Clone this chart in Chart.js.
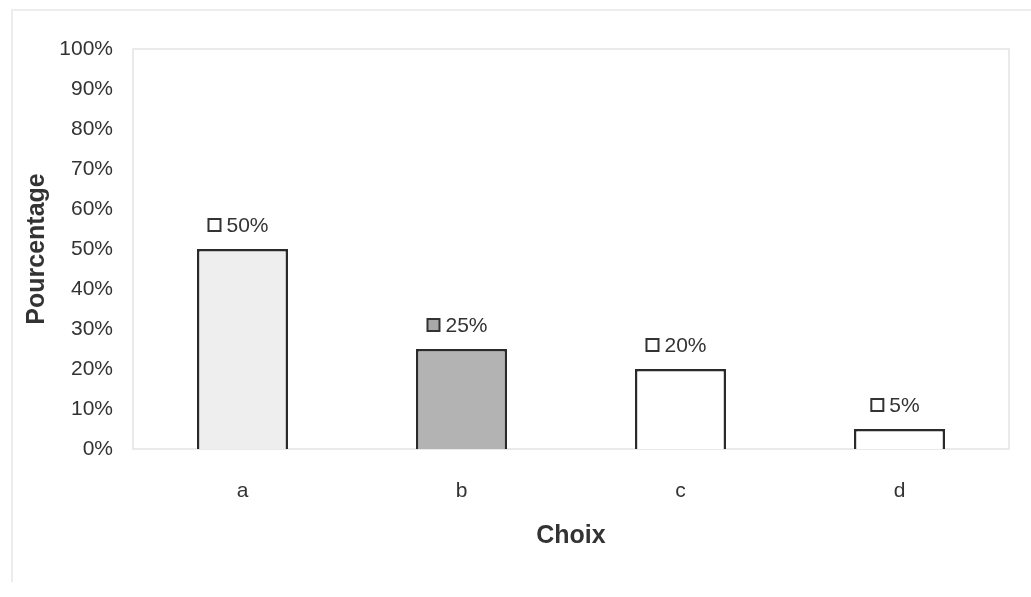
<!DOCTYPE html>
<html>
<head>
<meta charset="utf-8">
<script src="https://cdn.jsdelivr.net/npm/chart.js@4"></script>
<style>
    body { margin: 0; background: #ffffff; }
    #wrap { width: 1031px; height: 597px; position: relative; }
</style>
</head>
<body>
<div id="wrap"><canvas id="choixChart"></canvas></div>
<script>
const choix = ["a", "b", "c", "d"];
const pourcentages = [50, 25, 20, 5];
const barColors = ["#eeeeee", "#b3b3b3", "#ffffff", "#ffffff"];
const keyColors = ["#ffffff", "#a8a8a8", "#ffffff", "#ffffff"];
const yTicks = [0, 10, 20, 30, 40, 50, 60, 70, 80, 90, 100];

const textColor = "#333333";

// faint frames of the scanned picture
const framePlugin = {
    id: "frames",
    beforeDraw(chart) {
        const ctx = chart.ctx;
        const a = chart.chartArea;
        ctx.save();
        ctx.strokeStyle = "#ececec";
        ctx.lineWidth = 2;
        ctx.beginPath();
        ctx.moveTo(12, 582);
        ctx.lineTo(12, 10);
        ctx.lineTo(1031, 10);
        ctx.stroke();
        ctx.strokeStyle = "#e3e3e3";
        ctx.lineWidth = 1.5;
        ctx.strokeRect(a.left, a.top, a.right - a.left, a.bottom - a.top);
        ctx.restore();
    }
};

// value labels with a small legend key in front
const valueLabels = {
    id: "valueLabels",
    afterDatasetsDraw(chart) {
        const ctx = chart.ctx;
        const meta = chart.getDatasetMeta(0);
        ctx.save();
        ctx.font = "21px 'Liberation Sans', Arial, sans-serif";
        ctx.textBaseline = "middle";
        meta.data.forEach((bar, i) => {
            const text = pourcentages[i] + "%";
            const tw = ctx.measureText(text).width;
            const box = 12, gap = 6;
            const total = box + gap + tw;
            const x0 = bar.x - total / 2 - 4;
            const y = bar.y - 24;
            ctx.fillStyle = keyColors[i];
            ctx.fillRect(x0, y - box / 2, box, box);
            ctx.strokeStyle = "#333333";
            ctx.lineWidth = 2;
            ctx.strokeRect(x0, y - box / 2, box, box);
            ctx.fillStyle = textColor;
            ctx.textAlign = "left";
            ctx.fillText(text, x0 + box + gap, y + 1);
        });
        ctx.restore();
    }
};

new Chart(document.getElementById("choixChart"), {
    type: "bar",
    data: {
        labels: choix,
        datasets: [{
            data: pourcentages,
            backgroundColor: barColors,
            borderColor: "#2a2a2a",
            borderWidth: 2.5,
            barPercentage: 0.416,
            categoryPercentage: 1
        }]
    },
    options: {
        responsive: true,
        maintainAspectRatio: false,
        animation: false,
        layout: {
            padding: { left: 0, right: 22, top: 49, bottom: 0 }
        },
        plugins: {
            legend: { display: false },
            tooltip: { enabled: false }
        },
        scales: {
            x: {
                grid: { display: false },
                border: { display: false },
                ticks: {
                    color: textColor,
                    padding: 22,
                    font: { family: "'Liberation Sans', Arial, sans-serif", size: 21 }
                },
                title: {
                    display: true,
                    text: "Choix",
                    color: textColor,
                    padding: { top: 0, bottom: 46 },
                    font: { family: "'Liberation Sans', Arial, sans-serif", size: 25, weight: "bold" }
                },
                afterFit(scale) { scale.height = 148; }
            },
            y: {
                min: 0,
                max: 100,
                grid: { display: false },
                border: { display: false },
                afterBuildTicks(scale) {
                    scale.ticks = yTicks.map(v => ({ value: v }));
                },
                ticks: {
                    color: textColor,
                    padding: 12,
                    font: { family: "'Liberation Sans', Arial, sans-serif", size: 21 },
                    callback: (v) => v + "%"
                },
                title: {
                    display: true,
                    text: "Pourcentage",
                    color: textColor,
                    padding: { top: 22, bottom: 0 },
                    font: { family: "'Liberation Sans', Arial, sans-serif", size: 25, weight: "bold" }
                },
                afterFit(scale) { scale.width = 133; }
            }
        }
    },
    plugins: [framePlugin, valueLabels]
});
</script>
</body>
</html>
